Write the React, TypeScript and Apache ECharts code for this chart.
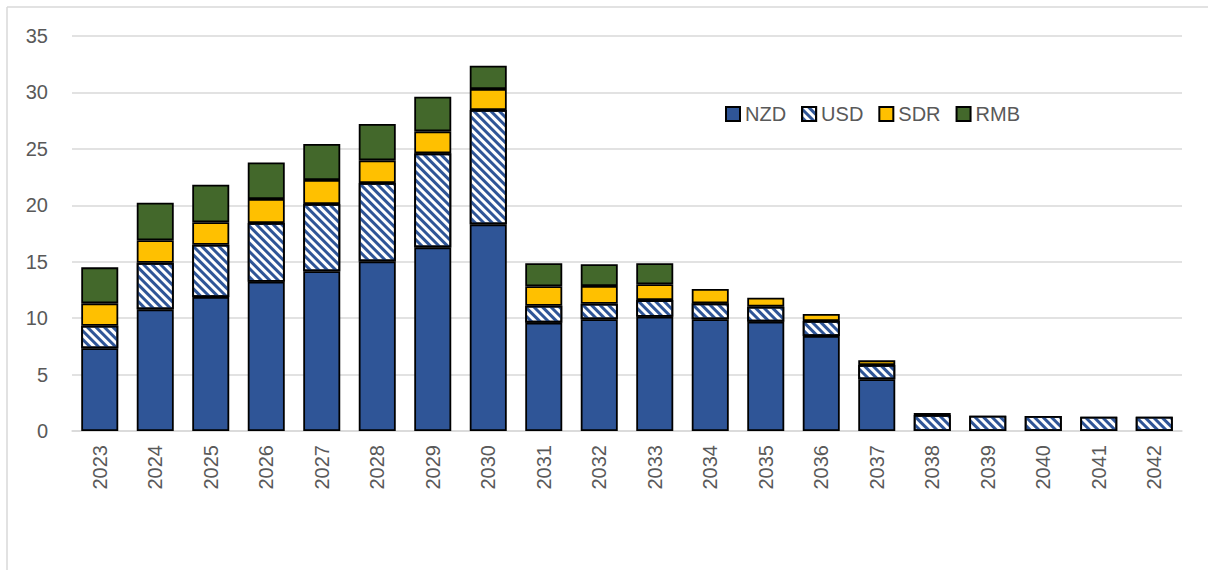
import React, { useEffect, useRef } from "react";
import * as echarts from "echarts";

const years = ["2023","2024","2025","2026","2027","2028","2029","2030","2031","2032","2033","2034","2035","2036","2037","2038","2039","2040","2041","2042"];
const nzd = [7.33, 10.78, 11.87, 13.23, 14.15, 15.03, 16.27, 18.31, 9.6, 9.9, 10.13, 9.9, 9.69, 8.42, 4.58, null, null, null, null, null];
const usd = [2.0, 4.12, 4.63, 5.2, 5.96, 6.94, 8.33, 10.13, 1.5, 1.38, 1.47, 1.41, 1.33, 1.33, 1.27, 1.42, 1.36, 1.33, 1.27, 1.27];
const sdr = [1.98, 2.0, 2.0, 2.13, 2.13, 2.01, 1.95, 1.86, 1.72, 1.57, 1.4, 1.27, 0.79, 0.62, 0.41, 0.18, null, null, null, null];
const rmb = [3.19, 3.33, 3.33, 3.24, 3.19, 3.22, 3.07, 2.07, 2.04, 1.92, 1.86, null, null, null, null, null, null, null, null, null];
const yTicks = [0, 5, 10, 15, 20, 25, 30, 35];

const FONT = "Liberation Sans";
const TXT = "#595959";

export default function App() {
  const ref = useRef<HTMLDivElement>(null);
  useEffect(() => {
    if (!ref.current) return;
    const chart = echarts.init(ref.current, null, { renderer: "svg" });
    const barBase = {
      type: "bar",
      stack: "total",
      barWidth: 37,
      emphasis: { disabled: true },
    };
    const border = { borderColor: "#000", borderWidth: 1.8 };
    chart.setOption({
      animation: false,
      textStyle: { fontFamily: FONT },
      legend: {
        left: 725,
        top: 104,
        padding: 0,
        itemWidth: 14,
        itemHeight: 14,
        itemGap: 15,
        icon: "rect",
        textStyle: { color: TXT, fontSize: 20, fontFamily: FONT },
        data: ["NZD", "USD", "SDR", "RMB"],
      },
      grid: { left: 72, right: 26, top: 36, bottom: 139, containLabel: false },
      xAxis: {
        type: "category",
        data: years,
        axisLine: { lineStyle: { color: "#D9D9D9", width: 1.5 } },
        axisTick: { show: false },
        axisLabel: { rotate: 90, color: TXT, fontSize: 20, fontFamily: FONT, margin: 14 },
      },
      yAxis: {
        type: "value",
        min: yTicks[0],
        max: yTicks[yTicks.length - 1],
        interval: 5,
        axisLine: { show: false },
        axisTick: { show: false },
        splitLine: { lineStyle: { color: "#D9D9D9", width: 1.5 } },
        axisLabel: { color: TXT, fontSize: 20, fontFamily: FONT, margin: 24 },
      },
      graphic: [
        { type: "line", shape: { x1: 7, y1: 7, x2: 1208, y2: 7 }, style: { stroke: "#D9D9D9", lineWidth: 1.5 } },
        { type: "line", shape: { x1: 7, y1: 7, x2: 7, y2: 570 }, style: { stroke: "#D9D9D9", lineWidth: 1.5 } },
      ],
      series: [
        { ...barBase, name: "NZD", data: nzd, itemStyle: { color: "#2F5597", ...border } },
        {
          ...barBase,
          name: "USD",
          data: usd,
          itemStyle: {
            color: "#FFFFFF",
            ...border,
            decal: {
              symbol: "rect",
              symbolSize: 1,
              color: "#2F5597",
              backgroundColor: "#FFFFFF",
              dashArrayX: [1, 0],
              dashArrayY: [3, 3],
              rotation: Math.PI / 4,
            },
          },
        },
        { ...barBase, name: "SDR", data: sdr, itemStyle: { color: "#FFC000", ...border } },
        { ...barBase, name: "RMB", data: rmb, itemStyle: { color: "#43682B", ...border } },
      ],
    });
    return () => chart.dispose();
  }, []);
  return (
    <div
      ref={ref}
      style={{ position: "fixed", left: 0, top: 0, width: 1208, height: 570, background: "#fff" }}
    />
  );
}
